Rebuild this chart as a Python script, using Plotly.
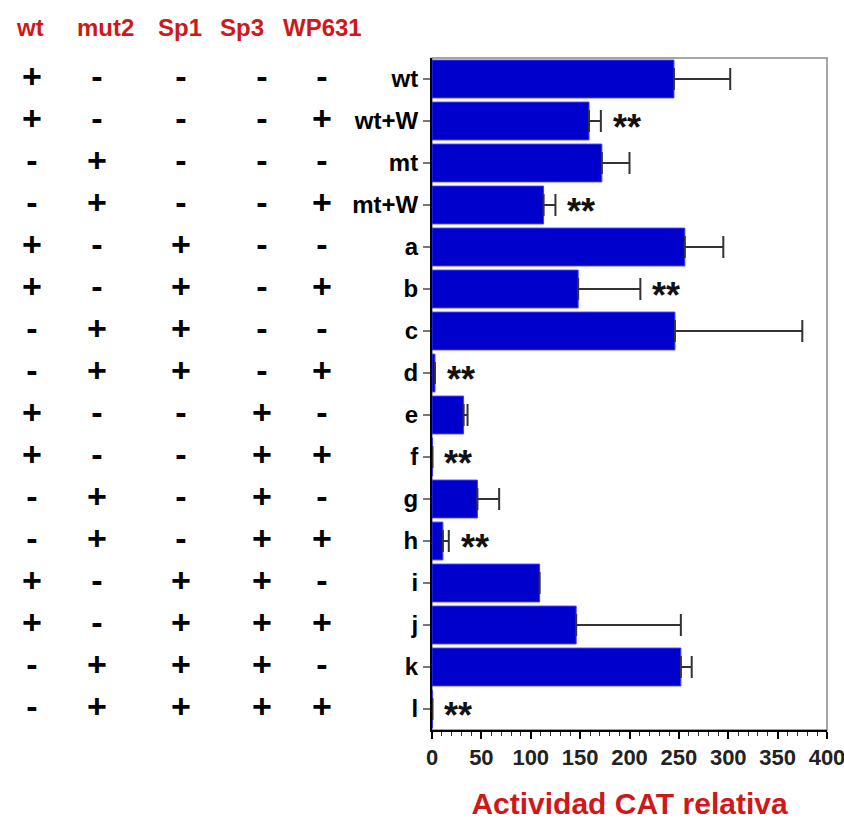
import plotly.graph_objects as go

# ---- data ----
muestras = ["wt", "wt+W", "mt", "mt+W", "a", "b", "c", "d",
            "e", "f", "g", "h", "i", "j", "k", "l"]
actividad = [245, 159, 172, 113, 256, 148, 246, 3,
             32, 0.5, 46, 11, 109, 146, 252, 0.5]
error_sup = [57, 12, 28, 12, 39, 63, 129, 0,
             4, 0, 22, 6, 0, 106, 11, 0]
signif = [0, 1, 0, 1, 0, 1, 0, 1, 0, 1, 0, 1, 0, 0, 0, 1]

columnas = ["wt", "mut2", "Sp1", "Sp3", "WP631"]
col_wt = ["+", "+", "-", "-", "+", "+", "-", "-", "+", "+", "-", "-", "+", "+", "-", "-"]
col_mut2 = ["-", "-", "+", "+", "-", "-", "+", "+", "-", "-", "+", "+", "-", "-", "+", "+"]
col_sp1 = ["-", "-", "-", "-", "+", "+", "+", "+", "-", "-", "-", "-", "+", "+", "+", "+"]
col_sp3 = ["-", "-", "-", "-", "-", "-", "-", "-", "+", "+", "+", "+", "+", "+", "+", "+"]
col_wp631 = ["-", "+", "-", "+", "-", "+", "-", "+", "-", "+", "-", "+", "-", "+", "-", "+"]
tabla = [col_wt, col_mut2, col_sp1, col_sp3, col_wp631]

FONT = "Arial, Liberation Sans, sans-serif"
ROJO = "#d01818"
AZUL = "#0000cc"

W, H = 844, 820
ml, mr, mt, mb = 0, 17, 58, 90
pw = W - ml - mr
ph = H - mt - mb
x0_px = 432

# pixel-like positions on the helper axis used for the left table
pos_signos = [32, 97, 181, 262, 322]
pos_cabecera = [30, 105, 180, 242, 322]
y_cabecera = 1 + (mt - 28) / ph

fig = go.Figure()

# ------------------------- BARRAS -------------------------
fig.add_trace(go.Bar(
    x=actividad,
    y=muestras,
    orientation="h",
    marker=dict(color=AZUL, line=dict(color="#3a3aff", width=1)),
    error_x=dict(type="data", array=error_sup, arrayminus=[0] * len(error_sup),
                 symmetric=False, color="#333333", thickness=2, width=11),
    showlegend=False,
    hoverinfo="skip",
))

# ------------------------- TABLA + / - -------------------------
for j, col in enumerate(tabla):
    fig.add_trace(go.Scatter(
        x=[pos_signos[j]] * len(muestras),
        y=muestras,
        mode="text",
        text=col,
        textfont=dict(family=FONT, size=34, color="black", weight="bold"),
        xaxis="x2",
        showlegend=False,
        hoverinfo="skip",
    ))

for j, nombre in enumerate(columnas):
    fig.add_annotation(
        x=pos_cabecera[j], y=y_cabecera, xref="x2", yref="paper", yanchor="middle",
        text=nombre, showarrow=False,
        font=dict(family=FONT, size=24, color=ROJO, weight="bold"),
    )

# ------------------------- ASTERISCOS -------------------------
for i, s in enumerate(signif):
    if s:
        fig.add_annotation(
            x=actividad[i] + error_sup[i], y=muestras[i],
            xref="x", yref="y", xanchor="left", xshift=10, yshift=-6,
            text="**", showarrow=False,
            font=dict(family=FONT, size=36, color="#111111", weight="bold"),
        )

# marco gris (arriba y derecha)
fig.add_shape(type="rect", xref="x domain", yref="y domain",
              x0=0, x1=1, y0=0, y1=1, line=dict(color="#888888", width=1.5),
              layer="below")

fig.update_layout(
    width=W, height=H,
    margin=dict(l=ml, r=mr, t=mt, b=mb),
    plot_bgcolor="white", paper_bgcolor="white",
    bargap=0.1,
    xaxis=dict(
        domain=[x0_px / pw, 1], range=[0, 400],
        tickvals=[0, 50, 100, 150, 200, 250, 300, 350, 400],
        showline=True, linecolor="black", linewidth=2,
        ticks="outside", ticklen=7, tickwidth=2, tickcolor="black",
        minor=dict(dtick=10, ticks="outside", ticklen=4, tickcolor="#333333", tickwidth=1),
        showgrid=False, zeroline=False, automargin=False,
        ticklabeloverflow="allow",
        tickfont=dict(family=FONT, size=22, color="#222222", weight="bold"),
        title=dict(text="Actividad CAT relativa", standoff=26,
                   font=dict(family=FONT, size=30, color=ROJO, weight="bold")),
    ),
    xaxis2=dict(domain=[0, x0_px / pw], range=[0, x0_px], visible=False,
                anchor="y", fixedrange=True),
    yaxis=dict(
        categoryorder="array", categoryarray=muestras,
        range=[15.5, -0.5],
        showline=True, linecolor="black", linewidth=2,
        ticks="outside", ticklen=7, tickcolor="#777777", tickwidth=1.5,
        showgrid=False, zeroline=False, automargin=False,
        tickfont=dict(family=FONT, size=24, color="black", weight="bold"),
        anchor="x",
    ),
)

fig.write_html("out.html", config={"displayModeBar": False},
               post_script="document.body.style.margin='0';")
